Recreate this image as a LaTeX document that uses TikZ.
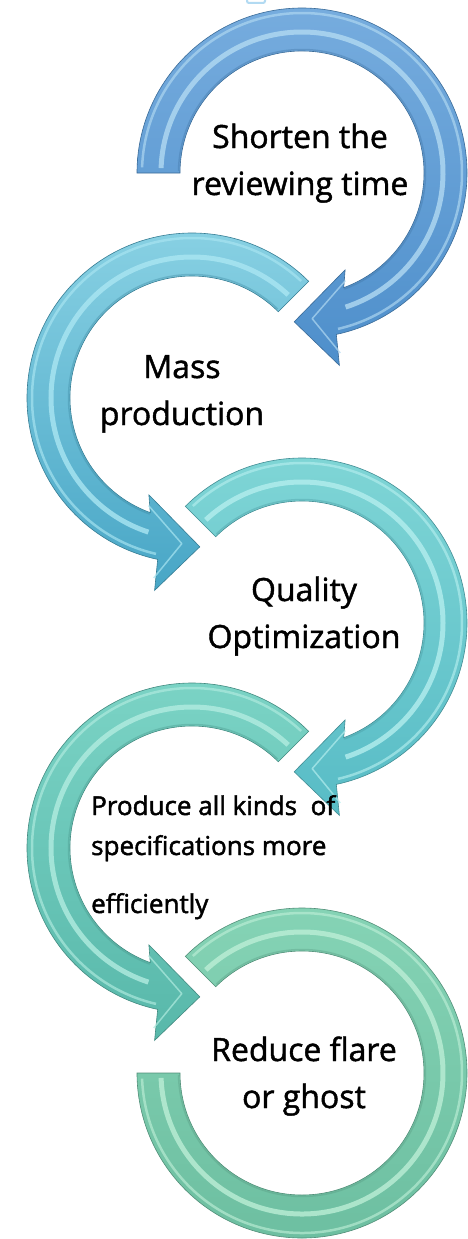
\documentclass[tikz,border=0pt]{standalone}
\usepackage{fontspec}
\setmainfont{Open Sans}[FakeBold=1.4]
\newfontfamily\semib{Open Sans}[FakeBold=1.8]
\definecolor{a1t}{RGB}{118,172,222}
\definecolor{a1b}{RGB}{78,143,203}
\definecolor{a1l}{RGB}{178,218,242}
\definecolor{a2t}{RGB}{138,210,228}
\definecolor{a2b}{RGB}{72,166,198}
\definecolor{a2l}{RGB}{170,230,242}
\definecolor{a3t}{RGB}{128,214,214}
\definecolor{a3b}{RGB}{88,188,198}
\definecolor{a3l}{RGB}{180,238,238}
\definecolor{a4t}{RGB}{124,212,198}
\definecolor{a4b}{RGB}{88,184,170}
\definecolor{a4l}{RGB}{178,236,224}
\definecolor{a5t}{RGB}{134,212,182}
\definecolor{a5b}{RGB}{108,190,160}
\definecolor{a5l}{RGB}{188,238,214}
\tikzset{
  lbl/.style={font=\fontsize{32}{47}\selectfont, align=center, inner sep=0pt, text=black},
  smalllbl/.style={font=\semib\fontsize{26}{40}\selectfont, align=left, inner sep=0pt, text=black},
}
% #1 scope options, #2 tail angle, #3 top colour, #4 bottom colour, #5 light colour
\newcommand\circArrow[5]{%
\begin{scope}[#1]
\path[top color=#3,bottom color=#4,draw=#4!75!black,line width=0.6pt]
  (#2:165pt) arc[start angle=#2,end angle=-78,radius=165pt]
  -- (-79:196pt) -- (-93:149pt) -- (-66:106pt) -- (-70:122pt)
  arc[start angle=-70,end angle=#2,radius=122pt] -- cycle;
\draw[#4!80!black,line width=1.5pt,opacity=.35] ({#2-1}:123.5pt) arc[start angle=#2-1,end angle=-70,radius=123.5pt];
\draw[#5,line width=5pt,opacity=.8] ({#2-2}:141pt) arc[start angle=#2-2,end angle=-72,radius=141pt];
\draw[#5,line width=2.5pt,opacity=.65] ({#2-2}:160pt) arc[start angle=#2-2,end angle=-77,radius=160pt];
\draw[#5,line width=1.5pt,opacity=.7,line join=round] (-68:116pt) -- (-86:146pt) -- (-78:184pt);
\end{scope}}
\begin{document}
\begin{tikzpicture}[x=1pt,y=1pt]
\useasboundingbox (0,0) rectangle (467,-1239);
\fill[white] (0,0) rectangle (467,-1239);
% sliver of a shape cut by the top edge
\draw[a1l,line width=2pt,rounded corners=2pt,fill=white] (247,2) rectangle (265,-3);

% arrow 5 (no head)
\begin{scope}[shift={(302,-1073)}]
\path[top color=a5t,bottom color=a5b,draw=a5b!75!black,line width=0.6pt]
  (135:165pt) arc[start angle=135,end angle=-180,radius=165pt]
  -- (-180:122pt) arc[start angle=-180,end angle=135,radius=122pt] -- cycle;
\draw[a5b!80!black,line width=1.5pt,opacity=.35] (134:123.5pt) arc[start angle=134,end angle=-179,radius=123.5pt];
\draw[a5l,line width=5pt,opacity=.8] (133:141pt) arc[start angle=133,end angle=-178,radius=141pt];
\draw[a5l,line width=2.5pt,opacity=.65] (133:160pt) arc[start angle=133,end angle=-178,radius=160pt];
\end{scope}

\circArrow{shift={(192,-848)},xscale=-1}{135}{a4t}{a4b}{a4l}
\circArrow{shift={(302,-623)}}{135}{a3t}{a3b}{a3l}
\circArrow{shift={(192,-398)},xscale=-1}{135}{a2t}{a2b}{a2l}
\circArrow{shift={(302,-173)}}{180}{a1t}{a1b}{a1l}

\node[lbl,anchor=base] (t1) at (300,-195) {Shorten the\\reviewing time};
\node[lbl,anchor=base] (t2) at (182,-425) {Mass\\production};
\node[lbl,anchor=base] (t3) at (304,-648) {Quality\\Optimization};
\node[smalllbl,anchor=base west] (t4) at (91,-913) {Produce all kinds\ \ of\\specifications more\\[18pt]efficiently};
\node[lbl,anchor=base] (t5) at (304,-1108) {Reduce flare\\or ghost};
\end{tikzpicture}
\end{document}
